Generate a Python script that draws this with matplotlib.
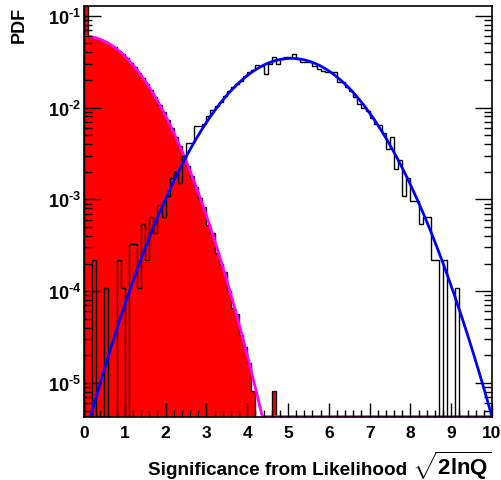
import numpy as np
import matplotlib
matplotlib.use('Agg')
import matplotlib.pyplot as plt
from matplotlib.ticker import LogLocator, MultipleLocator, NullFormatter, FuncFormatter

plt.rcParams['font.family'] = ['Liberation Sans', 'DejaVu Sans']
plt.rcParams['font.weight'] = 'bold'
plt.rcParams['mathtext.fontset'] = 'custom'
plt.rcParams['mathtext.rm'] = 'Liberation Sans:bold'
plt.rcParams['mathtext.it'] = 'Liberation Sans:bold'
plt.rcParams['mathtext.bf'] = 'Liberation Sans:bold'
plt.rcParams['mathtext.default'] = 'bf'

# ---------------- data ----------------
x_min, x_max, n_bins = 0.0, 10.0, 100
y_min, y_max = 4.25e-6, 0.128

# null-hypothesis histogram (red, filled)
null_hist = [
    0.55, 0.0593, 0.0582, 0.0564, 0.0542, 0.0516, 0.0486, 0.0453, 0.0418, 0.0382,
    0.0346, 0.0310, 0.0275, 0.0241, 0.0210, 0.0180, 0.0154, 0.0130, 0.0108, 0.00896,
    0.00734, 0.00595, 0.00477, 0.00379, 0.00298, 0.00232, 0.00179, 0.00137, 0.00103, 8.28e-4,
    5.2e-4, 4.3e-4, 2.6e-4, 2.0e-4, 1.6e-4, 1.0e-4, 6.6e-5, 5.7e-5, 3.3e-5, 2.46e-5,
    1.64e-5, 8.2e-6, 0, 0, 0, 0, 8.2e-6, 0, 0, 0,
    0, 0, 0, 0, 0, 0, 0, 0, 0, 0,
    0, 0, 0, 0, 0, 0, 0, 0, 0, 0,
    0, 0, 0, 0, 0, 0, 0, 0, 0, 0,
    0, 0, 0, 0, 0, 0, 0, 0, 0, 0,
    0, 0, 0, 0, 0, 0, 0, 0, 0, 0,
]

# signal-hypothesis histogram (black outline)
alt_hist = [
    0, 0, 2.16e-4, 0, 0, 1.08e-4, 0, 0, 2.16e-4, 1.08e-4,
    0, 3.24e-4, 3.24e-4, 1.08e-4, 5.4e-4, 2.16e-4, 6.48e-4, 4.32e-4, 8.64e-4, 6.48e-4,
    1.08e-3, 1.69e-3, 2.0e-3, 1.51e-3, 2.96e-3, 4.15e-3, 4.15e-3, 6.3e-3, 6.3e-3, 6.6e-3,
    8.1e-3, 9.5e-3, 0.0105, 0.0114, 0.0134, 0.0150, 0.0166, 0.0180, 0.0195, 0.0219,
    0.0242, 0.0259, 0.0291, 0.0287, 0.0232, 0.0299, 0.0353, 0.0299, 0.0339, 0.0353,
    0.0353, 0.0384, 0.0339, 0.0311, 0.0316, 0.0311, 0.0287, 0.0263, 0.0252, 0.0242,
    0.0242, 0.0242, 0.0188, 0.0188, 0.0166, 0.0152, 0.0129, 0.0109, 0.0100, 0.0092,
    0.0078, 0.0066, 0.0064, 0.00533, 0.00356, 0.00478, 0.00216, 0.00268, 0.00108, 0.00172,
    9.7e-4, 9.7e-4, 5.4e-4, 6.48e-4, 6.48e-4, 2.16e-4, 2.16e-4, 0, 2.16e-4, 0,
    0, 1.08e-4, 0, 0, 0, 0, 0, 0, 0, 0,
]

# Gaussian fit parameters
null_fit = dict(amp=0.060, mean=0.0, sigma=1.0)
alt_fit = dict(amp=0.0344, mean=5.08, sigma=1.16)

x_ticks = [0, 1, 2, 3, 4, 5, 6, 7, 8, 9, 10]
x_title = "Significance from Likelihood"
x_unit = r"$\sqrt{2lnQ}$"
y_title = "PDF"

# ---------------- plot ----------------
W, H = 502, 481
fig = plt.figure(figsize=(W / 100, H / 100), dpi=100)
ax = fig.add_axes([84 / W, 1 - 418 / H, (492 - 84) / W, (418 - 7) / H])

edges = np.linspace(x_min, x_max, n_bins + 1)
floor = y_min * 1e-3
null_arr = np.array(null_hist, dtype=float)
alt_arr = np.array(alt_hist, dtype=float)
null_draw = np.where(null_arr > 0, null_arr, floor)
alt_draw = np.where(alt_arr > 0, alt_arr, floor)

ax.stairs(null_draw, edges, baseline=floor, fill=True, facecolor='#ff0000',
          edgecolor='none', zorder=1)
ax.stairs(null_draw, edges, baseline=floor, color='black', lw=1.0, zorder=1.2)

xf = np.linspace(x_min, x_max, 800)
f_null = null_fit['amp'] * np.exp(-(xf - null_fit['mean']) ** 2 / (2 * null_fit['sigma'] ** 2))
f_alt = alt_fit['amp'] * np.exp(-(xf - alt_fit['mean']) ** 2 / (2 * alt_fit['sigma'] ** 2))
ax.plot(xf, np.maximum(f_null, y_min * 1.01), color='#ff00ff', lw=2.0, zorder=1.5)

ax.stairs(alt_draw, edges, baseline=floor, color='black', lw=1.0, zorder=1.8)
ax.plot(xf, f_alt, color='#0000ff', lw=2.0, zorder=2)

ax.set_yscale('log')
ax.set_xlim(x_min, x_max)
ax.set_ylim(y_min, y_max)
ax.set_xticks(x_ticks)
ax.set_xticklabels([str(t) for t in x_ticks])
ax.xaxis.set_minor_locator(MultipleLocator(0.2))
ax.yaxis.set_major_locator(LogLocator(base=10))
ax.yaxis.set_minor_locator(LogLocator(base=10, subs=np.arange(2, 10)))
ax.yaxis.set_major_formatter(FuncFormatter(
    lambda v, _: r'$10^{\text{-%d}}$' % int(round(-np.log10(v)))))
ax.yaxis.set_minor_formatter(NullFormatter())

ax.tick_params(which='both', direction='in', top=False, right=True, width=1.0, colors='black')
ax.tick_params(axis='x', which='major', length=10, pad=6, labelsize=12.5)
ax.tick_params(axis='x', which='minor', length=5)
ax.tick_params(axis='y', which='major', length=12, pad=2, labelsize=13)
ax.tick_params(axis='y', which='minor', length=6)
for lab in ax.get_xticklabels() + ax.get_yticklabels():
    lab.set_fontweight('bold')
for s in ax.spines.values():
    s.set_linewidth(1.2)
    s.set_zorder(3)

fig.text(148 / W, 1 - 475 / H, x_title, ha='left', va='baseline',
         fontsize=13.6, fontweight='bold')
fig.text(492 / W, 1 - 475 / H, x_unit, ha='right', va='baseline',
         fontsize=16, fontweight='bold')
fig.text(19 / W, 1 - 7 / H, y_title, rotation=90, ha='center', va='top',
         fontsize=13, fontweight='bold')

fig.savefig('out.png', dpi=100, facecolor='white')
